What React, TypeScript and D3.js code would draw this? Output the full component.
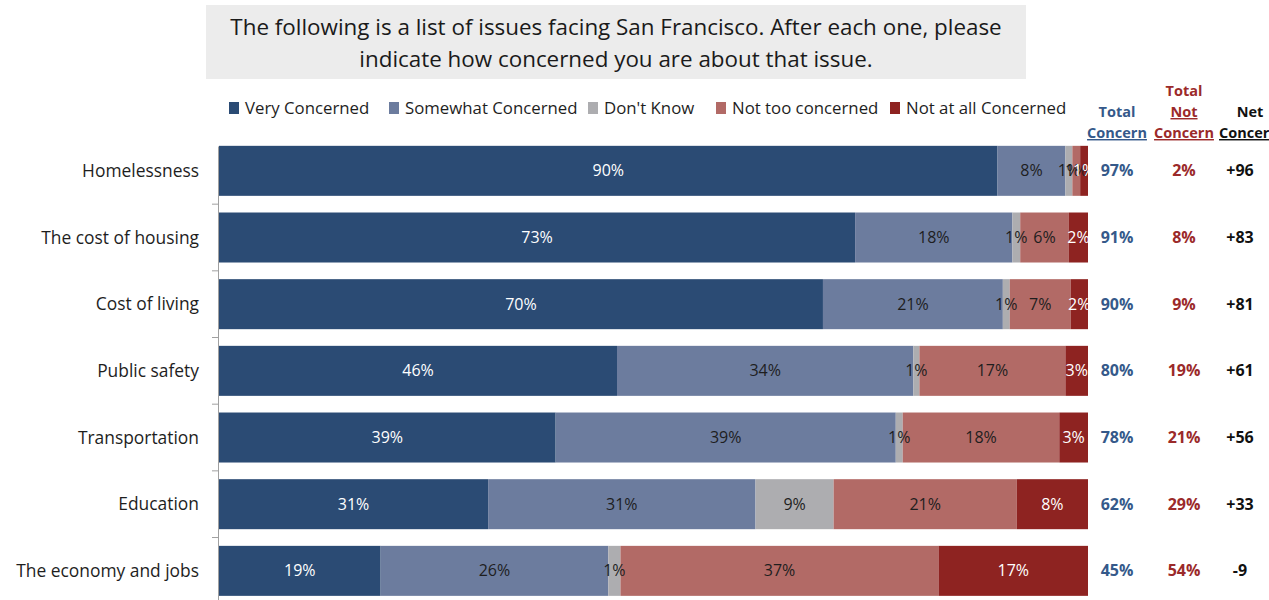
import { useMemo } from 'react';
import { scaleBand, scaleLinear, stack, stackOffsetExpand } from 'd3';

const W = 1269;
const H = 600;
const FONT = '"Open Sans", Lato, sans-serif';

const CATEGORIES = [
  'Homelessness',
  'The cost of housing',
  'Cost of living',
  'Public safety',
  'Transportation',
  'Education',
  'The economy and jobs',
];
const SERIES = ['Very Concerned', 'Somewhat Concerned', "Don't Know", 'Not too concerned', 'Not at all Concerned'];
const COLORS = ['#2b4b74', '#6c7c9e', '#adadb0', '#b26a66', '#8e2321'];
const LABEL_COLORS = ['#ffffff', '#1e1e1e', '#1e1e1e', '#1e1e1e', '#ffffff'];

// percent shares
const VERY = [89.5, 73.2, 69.5, 45.8, 38.7, 31.0, 18.6];
const SOMEWHAT = [7.8, 18.1, 20.7, 34.1, 39.1, 30.8, 26.2];
const DONT_KNOW = [0.8, 0.9, 0.8, 0.7, 0.8, 9.0, 1.4];
const NOT_TOO = [0.9, 5.6, 7.0, 16.8, 18.0, 21.1, 36.6];
const NOT_AT_ALL = [0.9, 2.2, 2.0, 2.6, 3.3, 8.2, 17.2];

const TOTAL_CONCERN = ['97%', '91%', '90%', '80%', '78%', '62%', '45%'];
const TOTAL_NOT = ['2%', '8%', '9%', '19%', '21%', '29%', '54%'];
const NET = ['+96', '+83', '+81', '+61', '+56', '+33', '-9'];

const M = { left: 219, right: W - 1088, top: 137.5 };
const BAND = 66.67;

export default function App() {
  const rows = useMemo(
    () =>
      CATEGORIES.map((c, i) => ({
        cat: c,
        s0: VERY[i],
        s1: SOMEWHAT[i],
        s2: DONT_KNOW[i],
        s3: NOT_TOO[i],
        s4: NOT_AT_ALL[i],
      })),
    []
  );
  const keys = ['s0', 's1', 's2', 's3', 's4'];
  const series = stack<any>().keys(keys).offset(stackOffsetExpand)(rows);

  const x = scaleLinear().domain([0, 1]).range([M.left, W - M.right]);
  const y = scaleBand()
    .domain(CATEGORIES)
    .range([M.top, M.top + BAND * CATEGORIES.length])
    .paddingInner(0.25)
    .paddingOuter(0.125);
  const bh = y.bandwidth();

  // legend swatch positions
  const legendX = [229, 389, 588, 716, 890];
  const colX = [1117, 1184, 1240];

  return (
    <svg
      width={W}
      height={H}
      style={{ position: 'absolute', left: 0, top: 0, background: '#fff' }}
      fontFamily={FONT}
    >
      {/* title box */}
      <rect x={206} y={5} width={820} height={74} fill="#ececec" />
      <text x={616} y={35} textAnchor="middle" fontSize={22.4} fill="#1a1a1a">
        The following is a list of issues facing San Francisco. After each one, please
      </text>
      <text x={616} y={67} textAnchor="middle" fontSize={22.4} fill="#1a1a1a">
        indicate how concerned you are about that issue.
      </text>

      {/* legend */}
      {SERIES.map((s, i) => (
        <g key={s} transform={`translate(${legendX[i]},108)`}>
          <rect x={0} y={-6} width={10} height={12} fill={COLORS[i]} />
          <text x={16} y={6} fontSize={16.8} fill="#1e1e1e">
            {s}
          </text>
        </g>
      ))}

      {/* bars */}
      {series.map((s, si) =>
        s.map((d, ri) => (
          <rect
            key={`${si}-${ri}`}
            x={x(d[0])}
            y={y(CATEGORIES[ri])!}
            width={x(d[1]) - x(d[0])}
            height={bh}
            fill={COLORS[si]}
          />
        ))
      )}
      {series.map((s, si) =>
        s.map((d, ri) => {
          const raw = rows[ri][keys[si] as 's0'];
          return (
            <text
              key={`l-${si}-${ri}`}
              x={(x(d[0]) + x(d[1])) / 2}
              y={y(CATEGORIES[ri])! + bh / 2}
              dy="0.35em"
              textAnchor="middle"
              fontSize={16}
              fill={LABEL_COLORS[si]}
            >
              {Math.round(raw)}%
            </text>
          );
        })
      )}

      {/* category axis */}
      <line x1={218.5} x2={218.5} y1={M.top + 9} y2={H} stroke="#a0a0a0" />
      {CATEGORIES.map((c, i) =>
        i === 0 ? null : (
          <line
            key={`t-${c}`}
            x1={212}
            x2={218.5}
            y1={y(c)! - (y.step() - bh) / 2}
            y2={y(c)! - (y.step() - bh) / 2}
            stroke="#a0a0a0"
          />
        )
      )}
      {CATEGORIES.map((c) => (
        <text
          key={`c-${c}`}
          x={199}
          y={y(c)! + bh / 2}
          dy="0.35em"
          textAnchor="end"
          fontSize={17.4}
          fill="#1e1e1e"
        >
          {c}
        </text>
      ))}

      {/* column headers */}
      <g fontSize={14.5} fontWeight="bold" textAnchor="middle">
        <text x={colX[0]} y={117} fill="#35598a">Total</text>
        <text x={colX[0]} y={138} fill="#35598a" textDecoration="underline">Concern</text>
        <text x={colX[1]} y={96} fill="#9b2a2a">Total</text>
        <text x={colX[1]} y={117} fill="#9b2a2a" textDecoration="underline">Not</text>
        <text x={colX[1]} y={138} fill="#9b2a2a" textDecoration="underline">Concern</text>
        <text x={1250} y={117} fill="#111">Net</text>
        <text x={1249} y={138} fill="#111" textDecoration="underline">Concern</text>
      </g>

      {/* totals */}
      {CATEGORIES.map((c, i) => (
        <g key={`v-${c}`} fontSize={16} fontWeight="bold" textAnchor="middle">
          <text x={colX[0]} y={y(c)! + bh / 2} dy="0.35em" fill="#35598a">
            {TOTAL_CONCERN[i]}
          </text>
          <text x={colX[1]} y={y(c)! + bh / 2} dy="0.35em" fill="#9b2a2a">
            {TOTAL_NOT[i]}
          </text>
          <text x={colX[2]} y={y(c)! + bh / 2} dy="0.35em" fill="#111">
            {NET[i]}
          </text>
        </g>
      ))}
    </svg>
  );
}
